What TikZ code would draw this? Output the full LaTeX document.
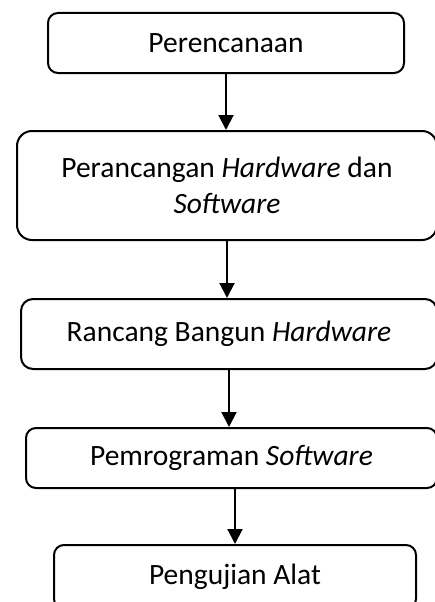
\documentclass[tikz,border=0pt]{standalone}
\usepackage{fontspec}
\setmainfont{Carlito}
\usepackage{tikz}
\usetikzlibrary{arrows.meta,calc}
\tikzstyle{arrow} = [line width=2pt,-{Triangle[width=15pt,length=15pt]}]
\tikzstyle{tahap} = [draw,line width=2pt,rectangle,rounded corners=10pt,
	align=center,inner sep=0pt,font=\fontsize{29.5}{36}\selectfont]

\begin{document}
\begin{tikzpicture}[x=1pt,y=-1pt]
	\useasboundingbox (0,0) rectangle (435,602);
	\clip (0,0) rectangle (435,602);
	
	\node[tahap,minimum width=356pt,minimum height=60pt] (1) at (226,43) {Perencanaan};
	\node[tahap,minimum width=420pt,minimum height=109pt,rounded corners=15pt] (2) at (227,185.5)
		{Perancangan \textit{Hardware} dan\\ \textit{Software}};
	\node[tahap,minimum width=416pt,minimum height=70pt,rounded corners=12pt] (3) at (229,334)
		{Rancang Bangun \textit{Hardware}};
	\node[tahap,minimum width=411pt,minimum height=60pt] (4) at (231.5,458)
		{Pemrograman \textit{Software}};
	\node[tahap,minimum width=362pt,minimum height=64pt] (5) at (235,577)
		{Pengujian Alat};
	
	\draw[arrow] (1.south) -- (1.south |- 2.north);
	\draw[arrow] (2.south) -- (2.south |- 3.north);
	\draw[arrow] (3.south) -- (3.south |- 4.north);
	\draw[arrow] (5.north |- 4.south) -- (5.north);
\end{tikzpicture}
\end{document}
